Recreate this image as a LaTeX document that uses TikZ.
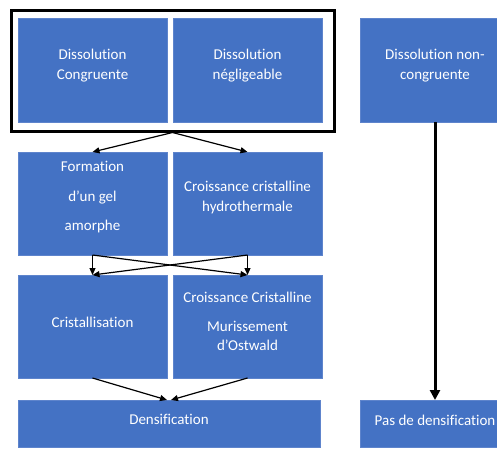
\documentclass[tikz,border=0pt]{standalone}
\usepackage{fontspec}
\setmainfont{Carlito}[Ligatures=NoCommon]
\usetikzlibrary{arrows.meta,calc}
\definecolor{boxblue}{HTML}{4472C4}
\definecolor{boxedge}{HTML}{5E84CC}
\begin{document}
\begin{tikzpicture}[x=1pt,y=-1pt,
  box/.style={fill=boxblue,draw=boxedge,line width=0.6pt,minimum width=149pt,minimum height=103pt,inner sep=0pt,outer sep=0pt},
  txt/.style={text=white,align=center,inner sep=0pt,font=\fontsize{15}{20.5}\selectfont},
  conn/.style={-{Triangle[length=7pt,width=6pt]},line width=1.2pt},
  bigconn/.style={-{Triangle[length=10pt,width=10pt]},line width=3pt}]
\useasboundingbox (0,0) rectangle (497,448);
\clip (0,0) rectangle (497,448);
% boxes
\node[box,minimum height=104pt] (b1) at (92.5,70) {};
\node[box,minimum height=104pt] (b2) at (247.5,70) {};
\node[box,minimum height=104pt,minimum width=150pt] (b3) at (435,70) {};
\node[box] (b4) at (92.5,203.5) {};
\node[box] (b5) at (247.5,203.5) {};
\node[box] (b6) at (92.5,326.5) {};
\node[box] (b7) at (247.5,326.5) {};
\node[box,minimum width=302pt,minimum height=47pt] (b8) at (169,423.5) {};
\node[box,minimum width=150pt,minimum height=47pt] (b9) at (435,423.5) {};
% frame
\node[draw=black,line width=3pt,minimum width=323pt,minimum height=121pt,inner sep=0pt] (frame) at (172.5,70.5) {};
% texts
\node[txt] (t1) at (92.5,65.5) {Dissolution\\Congruente};
\node[txt] (t2) at (247.5,65.5) {Dissolution\\négligeable};
\node[txt] (t3) at (435,65.5) {Dissolution non-\\congruente};
\node[txt,font=\fontsize{15}{29.5}\selectfont] (t4) at (92.5,197.5) {Formation\\d’un gel\\amorphe};
\node[txt,font=\fontsize{15}{19.5}\selectfont] (t5) at (247.5,197.5) {Croissance cristalline\\hydrothermale};
\node[txt] (t6) at (92.5,322) {Cristallisation};
\node[txt,font=\fontsize{15}{18.5}\selectfont] (t7) at (247.5,321) {Croissance Cristalline\\[11pt]Murissement\\d’Ostwald};
\node[txt] (t8) at (169,419) {Densification};
\node[txt] (t9) at (435,420) {Pas de densification};
% connectors
\draw[conn] (frame.south) -- (b4.north);
\draw[conn] (frame.south) -- (b5.north);
\draw[conn] (b4.south) -- (b6.north);
\draw[conn] (b4.south) -- (b7.north);
\draw[conn] (b5.south) -- (b7.north);
\draw[conn] (b5.south) -- (b6.north);
\draw[conn] (b6.south) -- ($(b8.north)+(-2,0)$);
\draw[conn] (b7.south) -- ($(b8.north)+(2,0)$);
\draw[bigconn] (b3.south) -- (b9.north);
\end{tikzpicture}
\end{document}
